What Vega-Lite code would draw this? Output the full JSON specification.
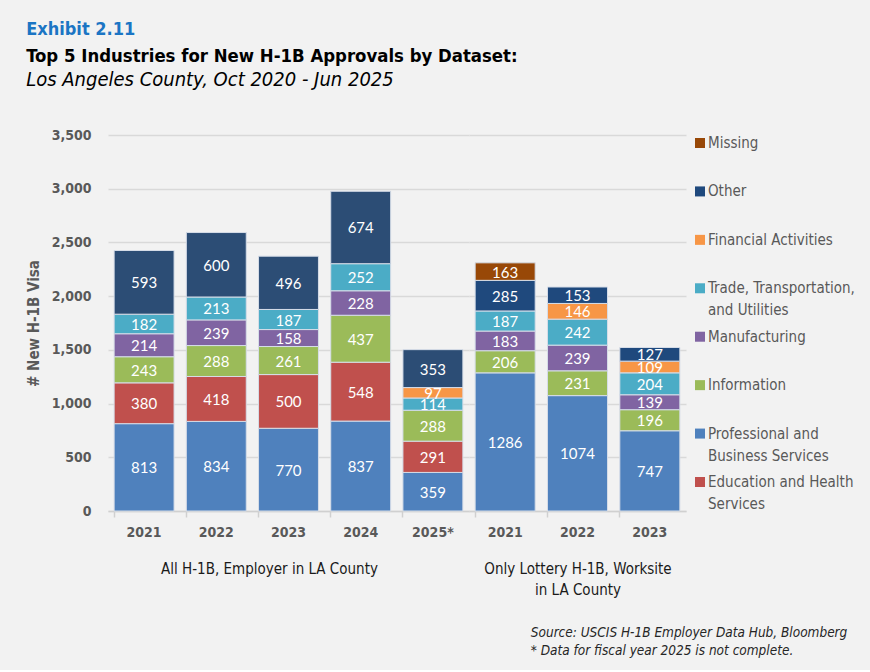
{
  "$schema": "https://vega.github.io/schema/vega-lite/v6.json",
  "background": "#f2f2f2",
  "padding": {"left": 26, "top": 20, "right": 17, "bottom": 12},
  "datasets": {
    "h1b": [
      {"dataset": "All", "year": "2021", "industry": "Professional and Business Services", "count": 813},
      {"dataset": "All", "year": "2021", "industry": "Education and Health Services", "count": 380},
      {"dataset": "All", "year": "2021", "industry": "Information", "count": 243},
      {"dataset": "All", "year": "2021", "industry": "Manufacturing", "count": 214},
      {"dataset": "All", "year": "2021", "industry": "Trade, Transportation, and Utilities", "count": 182},
      {"dataset": "All", "year": "2021", "industry": "Other", "count": 593},
      {"dataset": "All", "year": "2022", "industry": "Professional and Business Services", "count": 834},
      {"dataset": "All", "year": "2022", "industry": "Education and Health Services", "count": 418},
      {"dataset": "All", "year": "2022", "industry": "Information", "count": 288},
      {"dataset": "All", "year": "2022", "industry": "Manufacturing", "count": 239},
      {"dataset": "All", "year": "2022", "industry": "Trade, Transportation, and Utilities", "count": 213},
      {"dataset": "All", "year": "2022", "industry": "Other", "count": 600},
      {"dataset": "All", "year": "2023", "industry": "Professional and Business Services", "count": 770},
      {"dataset": "All", "year": "2023", "industry": "Education and Health Services", "count": 500},
      {"dataset": "All", "year": "2023", "industry": "Information", "count": 261},
      {"dataset": "All", "year": "2023", "industry": "Manufacturing", "count": 158},
      {"dataset": "All", "year": "2023", "industry": "Trade, Transportation, and Utilities", "count": 187},
      {"dataset": "All", "year": "2023", "industry": "Other", "count": 496},
      {"dataset": "All", "year": "2024", "industry": "Professional and Business Services", "count": 837},
      {"dataset": "All", "year": "2024", "industry": "Education and Health Services", "count": 548},
      {"dataset": "All", "year": "2024", "industry": "Information", "count": 437},
      {"dataset": "All", "year": "2024", "industry": "Manufacturing", "count": 228},
      {"dataset": "All", "year": "2024", "industry": "Trade, Transportation, and Utilities", "count": 252},
      {"dataset": "All", "year": "2024", "industry": "Other", "count": 674},
      {"dataset": "All", "year": "2025*", "industry": "Professional and Business Services", "count": 359},
      {"dataset": "All", "year": "2025*", "industry": "Education and Health Services", "count": 291},
      {"dataset": "All", "year": "2025*", "industry": "Information", "count": 288},
      {"dataset": "All", "year": "2025*", "industry": "Trade, Transportation, and Utilities", "count": 114},
      {"dataset": "All", "year": "2025*", "industry": "Financial Activities", "count": 97},
      {"dataset": "All", "year": "2025*", "industry": "Other", "count": 353},
      {"dataset": "Lottery", "year": "2021", "industry": "Professional and Business Services", "count": 1286},
      {"dataset": "Lottery", "year": "2021", "industry": "Information", "count": 206},
      {"dataset": "Lottery", "year": "2021", "industry": "Manufacturing", "count": 183},
      {"dataset": "Lottery", "year": "2021", "industry": "Trade, Transportation, and Utilities", "count": 187},
      {"dataset": "Lottery", "year": "2021", "industry": "Other", "count": 285},
      {"dataset": "Lottery", "year": "2021", "industry": "Missing", "count": 163},
      {"dataset": "Lottery", "year": "2022", "industry": "Professional and Business Services", "count": 1074},
      {"dataset": "Lottery", "year": "2022", "industry": "Information", "count": 231},
      {"dataset": "Lottery", "year": "2022", "industry": "Manufacturing", "count": 239},
      {"dataset": "Lottery", "year": "2022", "industry": "Trade, Transportation, and Utilities", "count": 242},
      {"dataset": "Lottery", "year": "2022", "industry": "Financial Activities", "count": 146},
      {"dataset": "Lottery", "year": "2022", "industry": "Other", "count": 153},
      {"dataset": "Lottery", "year": "2023", "industry": "Professional and Business Services", "count": 747},
      {"dataset": "Lottery", "year": "2023", "industry": "Information", "count": 196},
      {"dataset": "Lottery", "year": "2023", "industry": "Manufacturing", "count": 139},
      {"dataset": "Lottery", "year": "2023", "industry": "Trade, Transportation, and Utilities", "count": 204},
      {"dataset": "Lottery", "year": "2023", "industry": "Financial Activities", "count": 109},
      {"dataset": "Lottery", "year": "2023", "industry": "Other", "count": 127}
    ],
    "legend": [
      {"industry": "Missing", "lines": "Missing"},
      {"industry": "Other", "lines": "Other"},
      {"industry": "Financial Activities", "lines": "Financial Activities"},
      {"industry": "Trade, Transportation, and Utilities", "lines": ["Trade, Transportation,", "and Utilities"]},
      {"industry": "Manufacturing", "lines": "Manufacturing"},
      {"industry": "Information", "lines": "Information"},
      {"industry": "Professional and Business Services", "lines": ["Professional and", "Business Services"]},
      {"industry": "Education and Health Services", "lines": ["Education and Health", "Services"]}
    ]
  },
  "title": {
    "text": ["Source: USCIS H-1B Employer Data Hub, Bloomberg", "* Data for fiscal year 2025 is not complete."],
    "orient": "bottom",
    "anchor": "end",
    "align": "left",
    "dx": -324,
    "offset": 29,
    "fontSize": 13.5,
    "fontStyle": "italic",
    "fontWeight": "normal",
    "color": "#262626",
    "lineHeight": 18
  },
  "vconcat": [
    {
      "title": {"text": "Exhibit 2.11", "anchor": "start", "fontSize": 18, "fontWeight": "bold", "color": "#1B75C4", "offset": 8},
      "vconcat": [
        {
          "title": {
            "text": "Top 5 Industries for New H-1B Approvals by Dataset:",
            "subtitle": "Los Angeles County, Oct 2020 - Jun 2025",
            "anchor": "start",
            "fontSize": 18.4,
            "fontWeight": "bold",
            "color": "#000000",
            "subtitleFontSize": 20,
            "subtitleFontStyle": "italic",
            "subtitleColor": "#000000",
            "subtitlePadding": 5,
            "offset": 38
          },
          "spacing": 8,
          "hconcat": [
            {
              "spacing": 0,
              "resolve": {"scale": {"color": "independent", "y": "independent"}},
              "hconcat": [
                {
                  "width": 361,
                  "height": 376,
                  "data": {"name": "h1b"},
                  "transform": [
                    {"filter": "datum.dataset === 'All'"},
                    {"calculate": "indexof(['Professional and Business Services','Education and Health Services','Information','Manufacturing','Trade, Transportation, and Utilities','Financial Activities','Other','Missing'], datum.industry)", "as": "ord"},
                    {"stack": "count", "groupby": ["year"], "sort": [{"field": "ord", "order": "ascending"}], "as": ["y0", "y1"]},
                    {"calculate": "(datum.y0 + datum.y1) / 2", "as": "ymid"}
                  ],
                  "resolve": {"axis": {"x": "independent"}},
                  "layer": [
                    {
                      "mark": {"type": "bar", "stroke": "#d6dde8", "strokeWidth": 1},
                      "encoding": {
                        "x": {"field": "year", "type": "ordinal", "scale": {"paddingInner": 0.17, "paddingOuter": 0.085},
                          "axis": {"orient": "bottom", "title": "All H-1B, Employer in LA County", "titleX": 161, "ticks": false, "labelAngle": 0}},
                        "y": {"field": "y0", "type": "quantitative", "scale": {"domain": [0, 3500], "nice": false},
                          "axis": {"title": "# New H-1B Visa", "values": [0, 500, 1000, 1500, 2000, 2500, 3000, 3500], "format": ",d", "grid": true, "ticks": false, "domain": false, "labelPadding": 17, "titlePadding": 10}},
                        "y2": {"field": "y1"},
                        "color": {"field": "industry", "type": "nominal",
                          "scale": {"domain": ["Professional and Business Services", "Education and Health Services", "Information", "Manufacturing", "Trade, Transportation, and Utilities", "Financial Activities", "Other", "Missing"],
                            "range": ["#4F81BD", "#C0504D", "#9BBB59", "#8064A2", "#4BACC6", "#F79646", "#2C4D75", "#984807"]},
                          "legend": null}
                      }
                    },
                    {
                      "mark": {"type": "text", "color": "#ffffff", "font": "Lato", "fontSize": 15, "baseline": "middle", "dy": 1},
                      "encoding": {
                        "x": {"field": "year", "type": "ordinal",
                          "axis": {"orient": "bottom", "title": null, "labels": false, "domain": false, "ticks": true, "bandPosition": 0, "tickSize": 6}},
                        "y": {"field": "ymid", "type": "quantitative"},
                        "text": {"field": "count", "type": "quantitative"}
                      }
                    }
                  ]
                },
                {
                  "width": 217,
                  "height": 376,
                  "data": {"name": "h1b"},
                  "transform": [
                    {"filter": "datum.dataset === 'Lottery'"},
                    {"calculate": "indexof(['Professional and Business Services','Education and Health Services','Information','Manufacturing','Trade, Transportation, and Utilities','Financial Activities','Other','Missing'], datum.industry)", "as": "ord"},
                    {"stack": "count", "groupby": ["year"], "sort": [{"field": "ord", "order": "ascending"}], "as": ["y0", "y1"]},
                    {"calculate": "(datum.y0 + datum.y1) / 2", "as": "ymid"}
                  ],
                  "resolve": {"axis": {"x": "independent"}},
                  "layer": [
                    {
                      "mark": {"type": "bar", "stroke": "#d6dde8", "strokeWidth": 1},
                      "encoding": {
                        "x": {"field": "year", "type": "ordinal", "scale": {"paddingInner": 0.17, "paddingOuter": 0.085},
                          "axis": {"orient": "bottom", "title": ["Only Lottery H-1B, Worksite", "in LA County"], "ticks": false, "labelAngle": 0}},
                        "y": {"field": "y0", "type": "quantitative", "scale": {"domain": [0, 3500], "nice": false},
                          "axis": {"title": null, "values": [0, 500, 1000, 1500, 2000, 2500, 3000, 3500], "labels": false, "grid": true, "ticks": false, "domain": false}},
                        "y2": {"field": "y1"},
                        "color": {"field": "industry", "type": "nominal",
                          "scale": {"domain": ["Professional and Business Services", "Education and Health Services", "Information", "Manufacturing", "Trade, Transportation, and Utilities", "Financial Activities", "Other", "Missing"],
                            "range": ["#4F81BD", "#C0504D", "#9BBB59", "#8064A2", "#4BACC6", "#F79646", "#1F497D", "#984807"]},
                          "legend": null}
                      }
                    },
                    {
                      "mark": {"type": "text", "color": "#ffffff", "font": "Lato", "fontSize": 15, "baseline": "middle", "dy": 1},
                      "encoding": {
                        "x": {"field": "year", "type": "ordinal",
                          "axis": {"orient": "bottom", "title": null, "labels": false, "domain": false, "ticks": true, "bandPosition": 0, "tickSize": 6}},
                        "y": {"field": "ymid", "type": "quantitative"},
                        "text": {"field": "count", "type": "quantitative"}
                      }
                    }
                  ]
                }
              ]
            },
            {
              "width": 160,
              "height": 376,
              "data": {"name": "legend"},
              "encoding": {
                "y": {"field": "industry", "type": "nominal",
                  "scale": {"type": "point", "padding": 0, "domain": ["Missing", "Other", "Financial Activities", "Trade, Transportation, and Utilities", "Manufacturing", "Information", "Professional and Business Services", "Education and Health Services"], "range": [8, 347]},
                  "axis": null}
              },
              "layer": [
                {
                  "mark": {"type": "square", "size": 100, "filled": true, "opacity": 1},
                  "encoding": {
                    "x": {"value": 6},
                    "color": {"field": "industry", "type": "nominal",
                      "scale": {"domain": ["Professional and Business Services", "Education and Health Services", "Information", "Manufacturing", "Trade, Transportation, and Utilities", "Financial Activities", "Other", "Missing"],
                        "range": ["#4F81BD", "#C0504D", "#9BBB59", "#8064A2", "#4BACC6", "#F79646", "#1F497D", "#984807"]},
                      "legend": null}
                  }
                },
                {
                  "mark": {"type": "text", "align": "left", "baseline": "alphabetic", "dy": 5, "fontSize": 15, "color": "#595959", "lineHeight": 22},
                  "encoding": {
                    "x": {"value": 14},
                    "text": {"field": "lines", "type": "nominal"}
                  }
                }
              ]
            }
          ]
        }
      ]
    }
  ],
  "config": {
    "font": "Liberation Sans Narrow, Arial Narrow, DejaVu Sans Condensed, sans-serif",
    "view": {"stroke": null},
    "title": {"font": "Liberation Sans Narrow, Arial Narrow, DejaVu Sans Condensed, sans-serif", "subtitleFont": "Liberation Sans Narrow, Arial Narrow, DejaVu Sans Condensed, sans-serif"},
    "axis": {
      "labelFont": "Liberation Sans Narrow, Arial Narrow, DejaVu Sans Condensed, sans-serif",
      "titleFont": "Liberation Sans Narrow, Arial Narrow, DejaVu Sans Condensed, sans-serif",
      "labelFontSize": 14,
      "labelFontWeight": "bold",
      "labelColor": "#595959",
      "titleFontSize": 15,
      "titleColor": "#595959",
      "titleFontWeight": "bold",
      "gridColor": "#d9d9d9",
      "gridWidth": 1.5,
      "domainColor": "#d0d0d0",
      "domainWidth": 1.5,
      "tickColor": "#d0d0d0",
      "tickWidth": 1.5
    },
    "axisX": {
      "labelPadding": 14,
      "titleFontWeight": "normal",
      "titleColor": "#1a1a1a",
      "titlePadding": 22,
      "titleLineHeight": 21
    }
  }
}
